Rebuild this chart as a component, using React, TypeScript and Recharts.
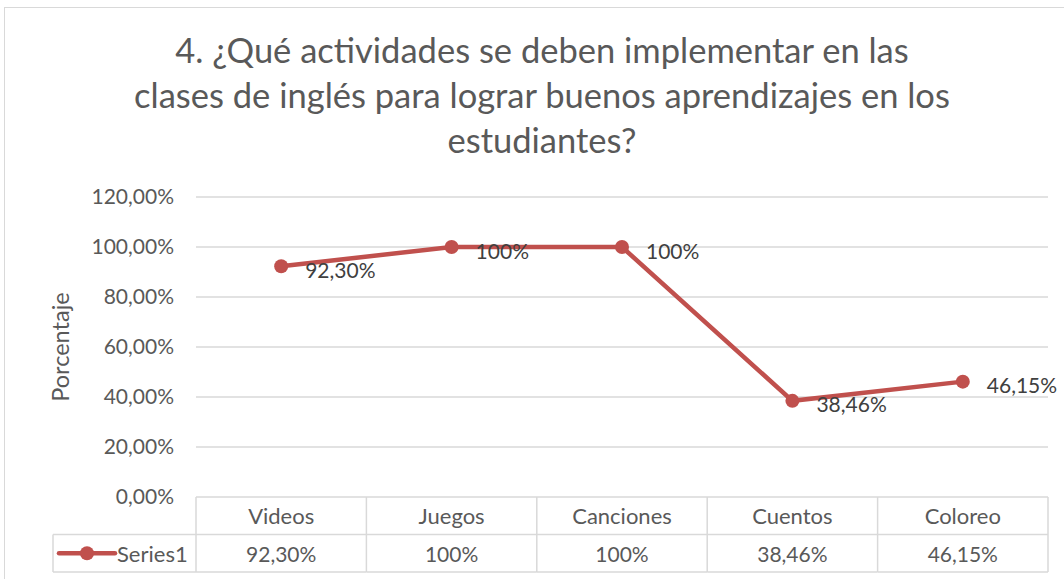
import React from 'react';
import { LineChart, Line, XAxis, YAxis, CartesianGrid, LabelList } from 'recharts';

const titleLines = [
  '4. ¿Qué actividades se deben implementar en las',
  'clases de inglés para lograr buenos aprendizajes en los',
  'estudiantes?',
];
const categories = ['Videos', 'Juegos', 'Canciones', 'Cuentos', 'Coloreo'];
const values = [92.3, 100, 100, 38.46, 46.15];
const valueLabels = ['92,30%', '100%', '100%', '38,46%', '46,15%'];
const yTicks = [0, 20, 40, 60, 80, 100, 120];
const yTickLabels = ['0,00%', '20,00%', '40,00%', '60,00%', '80,00%', '100,00%', '120,00%'];
const seriesName = 'Series1';
const yAxisTitle = 'Porcentaje';

const data = categories.map((name, i) => ({ name, value: values[i], label: valueLabels[i] }));

const W = 1064;
const H = 579;
const Y_AXIS_W = 196;
const MARGIN = { top: 197, right: 16, bottom: 0, left: 0 };
const X_AXIS_H = 82;
const FONT = 'Lato, "Open Sans", sans-serif';
const SERIES_COLOR = '#C0504D';
const GRID = '#D9D9D9';
const TEXT = '#595959';
const ROW_H = 37.5;
const LEGEND_CELL_W = 143;

const band = (W - Y_AXIS_W - MARGIN.right - MARGIN.left) / categories.length;

const TableTick = (props: any) => {
  const { x, y, payload } = props;
  const i = payload.index;
  const left = x - band / 2;
  const right = x + band / 2;
  const lx = left - LEGEND_CELL_W;
  return (
    <g>
      <line x1={left} y1={y} x2={left} y2={y + 2 * ROW_H} stroke={GRID} strokeWidth={1.5} />
      {i === categories.length - 1 && (
        <line x1={right} y1={y} x2={right} y2={y + 2 * ROW_H} stroke={GRID} strokeWidth={1.5} />
      )}
      <line x1={left} y1={y + ROW_H} x2={right} y2={y + ROW_H} stroke={GRID} strokeWidth={1.5} />
      <line x1={left} y1={y + 2 * ROW_H} x2={right} y2={y + 2 * ROW_H} stroke={GRID} strokeWidth={1.5} />
      <text x={x} y={y + ROW_H / 2} textAnchor="middle" dominantBaseline="central" fill={TEXT} fontSize={22} fontFamily={FONT}>
        {payload.value}
      </text>
      <text x={x} y={y + ROW_H * 1.5} textAnchor="middle" dominantBaseline="central" fill={TEXT} fontSize={21} fontFamily={FONT}>
        {valueLabels[i]}
      </text>
      {i === 0 && (
        <g>
          <line x1={lx} y1={y + ROW_H} x2={left} y2={y + ROW_H} stroke={GRID} strokeWidth={1.5} />
          <line x1={lx} y1={y + 2 * ROW_H} x2={left} y2={y + 2 * ROW_H} stroke={GRID} strokeWidth={1.5} />
          <line x1={lx} y1={y + ROW_H} x2={lx} y2={y + 2 * ROW_H} stroke={GRID} strokeWidth={1.5} />
          <line x1={lx + 6} y1={y + ROW_H * 1.5} x2={lx + 62} y2={y + ROW_H * 1.5} stroke={SERIES_COLOR} strokeWidth={4.5} strokeLinecap="round" />
          <circle cx={lx + 34} cy={y + ROW_H * 1.5} r={7} fill={SERIES_COLOR} />
          <text x={lx + 64} y={y + ROW_H * 1.5} dominantBaseline="central" fill={TEXT} fontSize={22} fontFamily={FONT}>
            {seriesName}
          </text>
        </g>
      )}
    </g>
  );
};

const PointLabel = (props: any) => {
  const { x, y, index } = props;
  return (
    <text x={x + 24} y={y + 3} dominantBaseline="central" fill="#404040" fontSize={21} fontFamily={FONT}>
      {valueLabels[index]}
    </text>
  );
};

export default function App() {
  return (
    <div style={{ position: 'absolute', left: 0, top: 0, width: W, height: H, background: '#fff', overflow: 'hidden' }}>
      <div style={{ position: 'absolute', left: 4, top: 7, width: 1090, height: 620, border: '1.5px solid #D9D9D9' }} />
      <svg width={W} height={H} style={{ position: 'absolute', left: 0, top: 0 }}>
        {titleLines.map((t, i) => (
          <text key={i} x={542} y={63 + i * 45} textAnchor="middle" fill={TEXT} fontSize={34.5} fontFamily={FONT}>
            {t}
          </text>
        ))}
      </svg>
      <div style={{ position: 'absolute', left: 0, top: 0 }}>
        <LineChart width={W} height={H} data={data} margin={MARGIN}>
          <CartesianGrid vertical={false} stroke={GRID} strokeWidth={1.5} />
          <XAxis
            dataKey="name"
            scale="band"
            height={X_AXIS_H}
            axisLine={false}
            tickLine={false}
            tickSize={0}
            tickMargin={0}
            interval={0}
            tick={<TableTick />}
          />
          <YAxis
            domain={[0, 120]}
            ticks={yTicks}
            width={Y_AXIS_W}
            axisLine={false}
            tickLine={false}
            tickSize={0}
            tickMargin={22}
            tickFormatter={(v: number) => yTickLabels[yTicks.indexOf(v)]}
            tick={{ fill: TEXT, fontSize: 21, fontFamily: FONT }}
            label={(p: any) => {
              const vb = p.viewBox;
              const cx = vb.x + 60;
              const cy = vb.y + vb.height / 2;
              return (
                <text x={cx} y={cy} transform={`rotate(-90 ${cx} ${cy})`} textAnchor="middle" dominantBaseline="central" fill={TEXT} fontSize={23.5} fontFamily={FONT}>
                  {yAxisTitle}
                </text>
              );
            }}
          />
          <Line
            type="linear"
            dataKey="value"
            stroke={SERIES_COLOR}
            strokeWidth={4.5}
            dot={{ r: 7, fill: SERIES_COLOR, stroke: SERIES_COLOR, strokeWidth: 0 }}
            isAnimationActive={false}
          >
            <LabelList dataKey="label" content={<PointLabel />} />
          </Line>
        </LineChart>
      </div>
    </div>
  );
}
